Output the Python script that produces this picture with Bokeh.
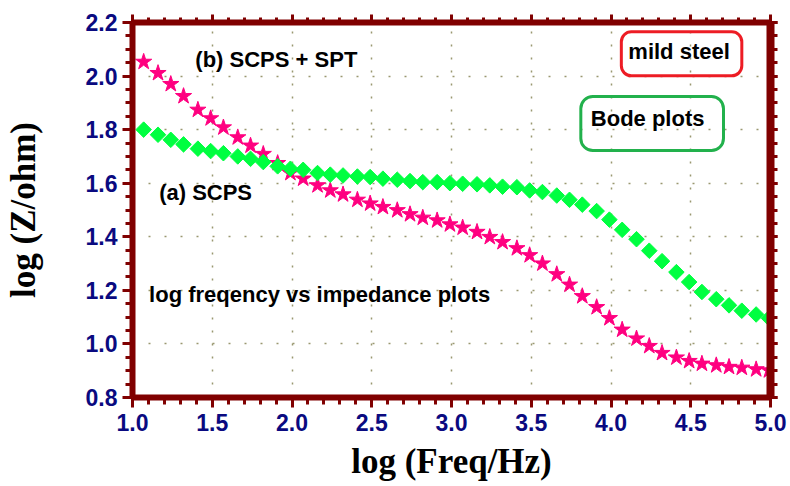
import math
from bokeh.plotting import figure
from bokeh.models import LinearAxis, FixedTicker, NumeralTickFormatter, Label, Range1d, Grid
from bokeh.embed import file_html
from bokeh.resources import INLINE

# ---- data ----
log_freq = [1.07, 1.16, 1.24, 1.32, 1.41, 1.49, 1.57, 1.66, 1.74, 1.82, 1.91, 1.99,
            2.07, 2.16, 2.24, 2.32, 2.41, 2.49, 2.57, 2.66, 2.74, 2.82, 2.91, 2.99,
            3.07, 3.16, 3.24, 3.32, 3.41, 3.49, 3.57, 3.66, 3.74, 3.82, 3.91, 3.99,
            4.07, 4.16, 4.24, 4.32, 4.41, 4.49, 4.57, 4.66, 4.74, 4.82, 4.91, 4.99]

# (a) SCPS  (green diamonds)
log_z_scps = [1.800, 1.781, 1.762, 1.745, 1.729, 1.720, 1.712, 1.700, 1.691, 1.679, 1.663, 1.654,
              1.650, 1.638, 1.632, 1.629, 1.625, 1.623, 1.617, 1.613, 1.608, 1.604, 1.604, 1.600,
              1.598, 1.596, 1.592, 1.587, 1.585, 1.573, 1.567, 1.554, 1.538, 1.520, 1.496, 1.464,
              1.426, 1.391, 1.348, 1.309, 1.268, 1.231, 1.194, 1.167, 1.144, 1.124, 1.110, 1.096]

# (b) SCPS + SPT  (pink stars)
log_z_scps_spt = [2.053, 2.011, 1.970, 1.925, 1.874, 1.842, 1.808, 1.771, 1.740, 1.709, 1.675, 1.638,
                  1.617, 1.592, 1.573, 1.558, 1.538, 1.524, 1.511, 1.499, 1.484, 1.471, 1.461, 1.446,
                  1.434, 1.418, 1.399, 1.380, 1.357, 1.331, 1.300, 1.260, 1.221, 1.178, 1.137, 1.096,
                  1.053, 1.020, 0.992, 0.966, 0.949, 0.936, 0.926, 0.920, 0.914, 0.911, 0.905, 0.901]

x_ticks = [1.0, 1.5, 2.0, 2.5, 3.0, 3.5, 4.0, 4.5, 5.0]
y_ticks = [0.8, 1.0, 1.2, 1.4, 1.6, 1.8, 2.0, 2.2]
x_minor = [round(1.0 + 0.1 * i, 2) for i in range(41)]
y_minor = [round(0.8 + 0.05 * i, 3) for i in range(29)]

x_title = "log (Freq/Hz)"
y_title = "log (Z/ohm)"

# ---- styles ----
MAROON = "#800000"
NAVY = "#0a0a80"
GREEN = "#00FF40"
PINK = "#FF0080"
BOX_RED = "#ED1C24"
BOX_GREEN = "#22B14C"
GRID = "#9a9870"
SANS = "Liberation Sans"
SERIF = "Liberation Serif"

p = figure(width=790, height=486, x_range=Range1d(1.0, 5.0), y_range=Range1d(0.8, 2.2),
           output_backend="svg", toolbar_location=None,
           x_axis_type=None, y_axis_type=None,
           min_border_left=130, min_border_right=20, min_border_top=22, min_border_bottom=89)
p.outline_line_color = None
p.background_fill_color = "white"
p.border_fill_color = "white"


def make_axis(ticks, minor, labels=True, line_width=6, major_out=10, minor_out=7):
    ax = LinearAxis(ticker=FixedTicker(ticks=ticks, minor_ticks=minor))
    ax.axis_line_color = MAROON
    ax.axis_line_width = line_width
    ax.major_tick_line_color = MAROON
    ax.major_tick_line_width = 3
    ax.major_tick_in = 0
    ax.major_tick_out = major_out
    ax.minor_tick_line_color = MAROON
    ax.minor_tick_line_width = 3
    ax.minor_tick_in = 0
    ax.minor_tick_out = minor_out
    if labels:
        ax.formatter = NumeralTickFormatter(format="0.0")
        ax.major_label_text_font = SANS
        ax.major_label_text_font_style = "bold"
        ax.major_label_text_font_size = "23px"
        ax.major_label_text_color = NAVY
        ax.axis_label_text_font = SERIF
        ax.axis_label_text_font_style = "bold"
        ax.axis_label_text_font_size = "35px"
        ax.axis_label_text_color = "black"
    else:
        ax.major_label_overrides = {t: "" for t in ticks}
        ax.major_label_text_font_size = "1px"
        ax.major_label_standoff = 0
    return ax


xb = make_axis(x_ticks, x_minor)
xb.major_label_standoff = 6
xb.axis_label = x_title
xb.axis_label_standoff = 8
yl = make_axis(y_ticks, y_minor)
yl.major_label_standoff = 5
yl.axis_label = y_title
yl.axis_label_standoff = 40
xt = make_axis(x_ticks, x_minor, labels=False, major_out=8, minor_out=5)
yr = make_axis(y_ticks, y_minor, labels=False, line_width=8, major_out=7, minor_out=7)
p.add_layout(xb, "below")
p.add_layout(yl, "left")
p.add_layout(xt, "above")
p.add_layout(yr, "right")

xg = Grid(dimension=0, ticker=FixedTicker(ticks=x_ticks))
xg.grid_line_color = GRID
xg.grid_line_dash = "2 11"
xg.grid_line_width = 1.5
yg = Grid(dimension=1, ticker=FixedTicker(ticks=y_ticks))
yg.grid_line_color = GRID
yg.grid_line_dash = "2 14"
yg.grid_line_width = 1.5
p.add_layout(xg, "center")
p.add_layout(yg, "center")

p.scatter(log_freq, log_z_scps_spt, marker="star", size=17, fill_color=PINK, line_color=PINK, line_width=1)
p.scatter(log_freq, log_z_scps, marker="square", size=11, angle=math.pi / 4,
          fill_color=GREEN, line_color=GREEN, line_width=1)


def txt(x, y, s, **kw):
    lab = Label(x=x, y=y, text=s, text_font=SANS, text_font_style="bold",
                text_font_size="22px", text_color="black", **kw)
    p.add_layout(lab)
    return lab


txt(1.394, 2.017, "(b) SCPS + SPT")
txt(1.167, 1.517, "(a) SCPS")
txt(1.104, 1.138, "log freqency vs impedance plots")
txt(4.4425, 2.083, "mild steel", text_align="center", text_baseline="middle",
    border_line_color=BOX_RED, border_line_width=3, border_radius=10, padding=(7, 12, 7, 12))
txt(4.258, 1.823, "Bode plots", text_align="center", text_baseline="middle",
    border_line_color=BOX_GREEN, border_line_width=3, border_radius=12, padding=(10, 19, 10, 19))

open("out.html", "w").write(file_html(p, INLINE))
